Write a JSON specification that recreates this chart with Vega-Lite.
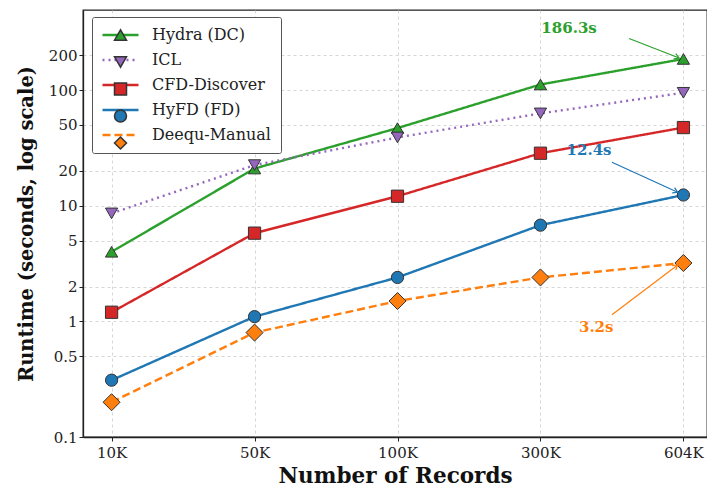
{
  "$schema": "https://vega.github.io/schema/vega-lite/v6.json",
  "autosize": {"type": "none"},
  "padding": {"left": 83, "top": 10, "right": 0, "bottom": 52},
  "width": 624,
  "height": 427,
  "background": "white",
  "config": {
    "font": "DejaVu Serif",
    "view": {"stroke": "#222", "strokeWidth": 1.3},
    "axis": {
      "labelFont": "DejaVu Serif", "labelFontSize": 15, "labelColor": "#222",
      "titleFont": "DejaVu Serif", "titleFontSize": 19, "titleFontWeight": "bold", "titleColor": "#111",
      "domainColor": "#222", "domainWidth": 1.3, "tickColor": "#222", "tickSize": 4,
      "gridColor": "#cccccc", "gridDash": [3, 3], "gridWidth": 0.8
    },
    "legend": {
      "labelFont": "DejaVu Serif", "labelFontSize": 16, "labelColor": "#222"
    }
  },
  "datasets": {
    "runs": [
      {"method": "Hydra (DC)", "pos": 0, "records": "10K", "runtime": 4.0},
      {"method": "Hydra (DC)", "pos": 1, "records": "50K", "runtime": 21},
      {"method": "Hydra (DC)", "pos": 2, "records": "100K", "runtime": 47},
      {"method": "Hydra (DC)", "pos": 3, "records": "300K", "runtime": 112},
      {"method": "Hydra (DC)", "pos": 4, "records": "604K", "runtime": 186.3},
      {"method": "ICL", "pos": 0, "records": "10K", "runtime": 8.6},
      {"method": "ICL", "pos": 1, "records": "50K", "runtime": 22.5},
      {"method": "ICL", "pos": 2, "records": "100K", "runtime": 39},
      {"method": "ICL", "pos": 3, "records": "300K", "runtime": 63},
      {"method": "ICL", "pos": 4, "records": "604K", "runtime": 95},
      {"method": "CFD-Discover", "pos": 0, "records": "10K", "runtime": 1.2},
      {"method": "CFD-Discover", "pos": 1, "records": "50K", "runtime": 5.8},
      {"method": "CFD-Discover", "pos": 2, "records": "100K", "runtime": 12.1},
      {"method": "CFD-Discover", "pos": 3, "records": "300K", "runtime": 28.5},
      {"method": "CFD-Discover", "pos": 4, "records": "604K", "runtime": 47.5},
      {"method": "HyFD (FD)", "pos": 0, "records": "10K", "runtime": 0.31},
      {"method": "HyFD (FD)", "pos": 1, "records": "50K", "runtime": 1.1},
      {"method": "HyFD (FD)", "pos": 2, "records": "100K", "runtime": 2.4},
      {"method": "HyFD (FD)", "pos": 3, "records": "300K", "runtime": 6.8},
      {"method": "HyFD (FD)", "pos": 4, "records": "604K", "runtime": 12.4},
      {"method": "Deequ-Manual", "pos": 0, "records": "10K", "runtime": 0.2},
      {"method": "Deequ-Manual", "pos": 1, "records": "50K", "runtime": 0.8},
      {"method": "Deequ-Manual", "pos": 2, "records": "100K", "runtime": 1.5},
      {"method": "Deequ-Manual", "pos": 3, "records": "300K", "runtime": 2.4},
      {"method": "Deequ-Manual", "pos": 4, "records": "604K", "runtime": 3.2}
    ],
    "notes": [
      {"method": "Hydra (DC)", "label": "186.3s", "tx": 3.2, "ty": 345, "ax": 3.62, "ay": 280, "hx": 3.97, "hy": 190},
      {"method": "HyFD (FD)", "label": "12.4s", "tx": 3.34, "ty": 30.5, "ax": 3.5, "ay": 23.8, "hx": 3.96, "hy": 13.1},
      {"method": "Deequ-Manual", "label": "3.2s", "tx": 3.39, "ty": 0.9, "ax": 3.5, "ay": 1.14, "hx": 3.96, "hy": 3.08}
    ]
  },
  "layer": [
    {
      "data": {"name": "runs"},
      "mark": {"type": "line", "strokeWidth": 2.4},
      "encoding": {
        "x": {"field": "pos", "type": "quantitative",
              "scale": {"domain": [-0.2, 4.165], "nice": false, "zero": false},
              "axis": {"values": [0, 1, 2, 3, 4], "title": "Number of Records", "titleFontSize": 21.5,
                       "labelExpr": "['10K','50K','100K','300K','604K'][datum.value]",
                       "labelPadding": 4, "titlePadding": 5, "grid": true}},
        "y": {"field": "runtime", "type": "quantitative",
              "scale": {"type": "log", "domain": [0.1, 494], "nice": false},
              "axis": {"values": [0.1, 0.5, 1, 2, 5, 10, 20, 50, 100, 200], "format": "~g",
                       "title": "Runtime (seconds, log scale)", "titleFontSize": 19.5, "titlePadding": 12, "grid": true}},
        "stroke": {"field": "method", "type": "nominal",
                   "scale": {"domain": ["Deequ-Manual", "HyFD (FD)", "CFD-Discover", "ICL", "Hydra (DC)"],
                             "range": ["#ff7f0e", "#1f77b4", "#d62728", "#9467bd", "#2ca02c"]},
                   "legend": null},
        "strokeDash": {"field": "method", "type": "nominal", "sort": null,
                       "scale": {"range": [[1, 0], [2, 4], [1, 0], [1, 0], [8, 4]]},
                       "legend": {"title": null, "orient": "none", "legendX": 9, "legendY": 7, "zindex": 1,
                                  "padding": 10, "fillColor": "white", "strokeColor": "#555", "cornerRadius": 2,
                                  "symbolType": "M-3,0L3,0", "symbolSize": 144, "symbolOffset": 10.5,
                                  "labelOffset": 23.5, "rowPadding": 9, "gridAlign": "all",
                                  "encode": {"symbols": {"update": {"stroke": {"scale": "stroke", "field": "value"}, "strokeWidth": {"value": 2.4}}}}}}
      }
    },
    {
      "data": {"name": "runs"},
      "transform": [{"filter": "datum.method != 'Deequ-Manual'"}],
      "mark": {"type": "point", "filled": true, "opacity": 1, "size": 150, "stroke": "#333", "strokeWidth": 1},
      "encoding": {
        "x": {"field": "pos", "type": "quantitative"},
        "y": {"field": "runtime", "type": "quantitative"},
        "color": {"field": "method", "type": "nominal",
                  "scale": {"domain": ["Hydra (DC)", "ICL", "CFD-Discover", "HyFD (FD)", "Deequ-Manual"],
                            "range": ["#2ca02c", "#9467bd", "#d62728", "#1f77b4", "#ff7f0e"]},
                  "legend": {"title": null, "orient": "none", "legendX": 9, "legendY": 7, "zindex": 2,
                             "padding": 10, "symbolSize": 144, "symbolOffset": 10.5, "labelOffset": 23.5, "rowPadding": 9,
                             "gridAlign": "all", "labelExpr": "' '",
                             "encode": {"symbols": {"update": {"stroke": {"value": "#333"}, "strokeWidth": {"value": 1}}}}}},
        "shape": {"field": "method", "type": "nominal",
                  "scale": {"domain": ["Hydra (DC)", "ICL", "CFD-Discover", "HyFD (FD)", "Deequ-Manual"],
                            "range": ["triangle-up", "triangle-down", "square", "circle", "diamond"]},
                  "legend": {"title": null, "orient": "none", "legendX": 9, "legendY": 7, "zindex": 2}}
      }
    },
    {
      "data": {"name": "runs"},
      "transform": [{"filter": "datum.method == 'Deequ-Manual'"}],
      "mark": {"type": "point", "filled": true, "opacity": 1, "size": 290, "stroke": "#333", "strokeWidth": 1},
      "encoding": {
        "x": {"field": "pos", "type": "quantitative"},
        "y": {"field": "runtime", "type": "quantitative"},
        "color": {"field": "method", "type": "nominal"},
        "shape": {"field": "method", "type": "nominal"}
      }
    },
    {
      "data": {"name": "notes"},
      "mark": {"type": "rule", "strokeWidth": 1.2},
      "encoding": {
        "x": {"field": "ax", "type": "quantitative"},
        "y": {"field": "ay", "type": "quantitative"},
        "x2": {"field": "hx"},
        "y2": {"field": "hy"},
        "stroke": {"field": "method", "type": "nominal", "legend": null}
      }
    },
    {
      "data": {"name": "notes"},
      "mark": {"type": "text", "fontWeight": "bold", "fontSize": 15, "align": "center", "baseline": "middle"},
      "encoding": {
        "x": {"field": "tx", "type": "quantitative"},
        "y": {"field": "ty", "type": "quantitative"},
        "text": {"field": "label"},
        "fill": {"field": "method", "type": "nominal",
                 "scale": {"domain": ["Deequ-Manual", "HyFD (FD)", "CFD-Discover", "ICL", "Hydra (DC)"],
                           "range": ["#ff7f0e", "#1f77b4", "#d62728", "#9467bd", "#2ca02c"]},
                 "legend": null}
      }
    },
    {
      "data": {"name": "notes"},
      "transform": [{"filter": "datum.method == 'Hydra (DC)'"}],
      "mark": {"type": "point", "shape": "M-1,-0.6L0,0L-1,0.6", "filled": false, "size": 90, "strokeWidth": 1.2, "angle": 21, "opacity": 1},
      "encoding": {
        "x": {"field": "hx", "type": "quantitative"},
        "y": {"field": "hy", "type": "quantitative"},
        "stroke": {"field": "method", "type": "nominal", "legend": null}
      }
    },
    {
      "data": {"name": "notes"},
      "transform": [{"filter": "datum.method == 'HyFD (FD)'"}],
      "mark": {"type": "point", "shape": "M-1,-0.6L0,0L-1,0.6", "filled": false, "size": 90, "strokeWidth": 1.2, "angle": 25, "opacity": 1},
      "encoding": {
        "x": {"field": "hx", "type": "quantitative"},
        "y": {"field": "hy", "type": "quantitative"},
        "stroke": {"field": "method", "type": "nominal", "legend": null}
      }
    },
    {
      "data": {"name": "notes"},
      "transform": [{"filter": "datum.method == 'Deequ-Manual'"}],
      "mark": {"type": "point", "shape": "M-1,-0.6L0,0L-1,0.6", "filled": false, "size": 90, "strokeWidth": 1.2, "angle": 322, "opacity": 1},
      "encoding": {
        "x": {"field": "hx", "type": "quantitative"},
        "y": {"field": "hy", "type": "quantitative"},
        "stroke": {"field": "method", "type": "nominal", "legend": null}
      }
    }
  ]
}
